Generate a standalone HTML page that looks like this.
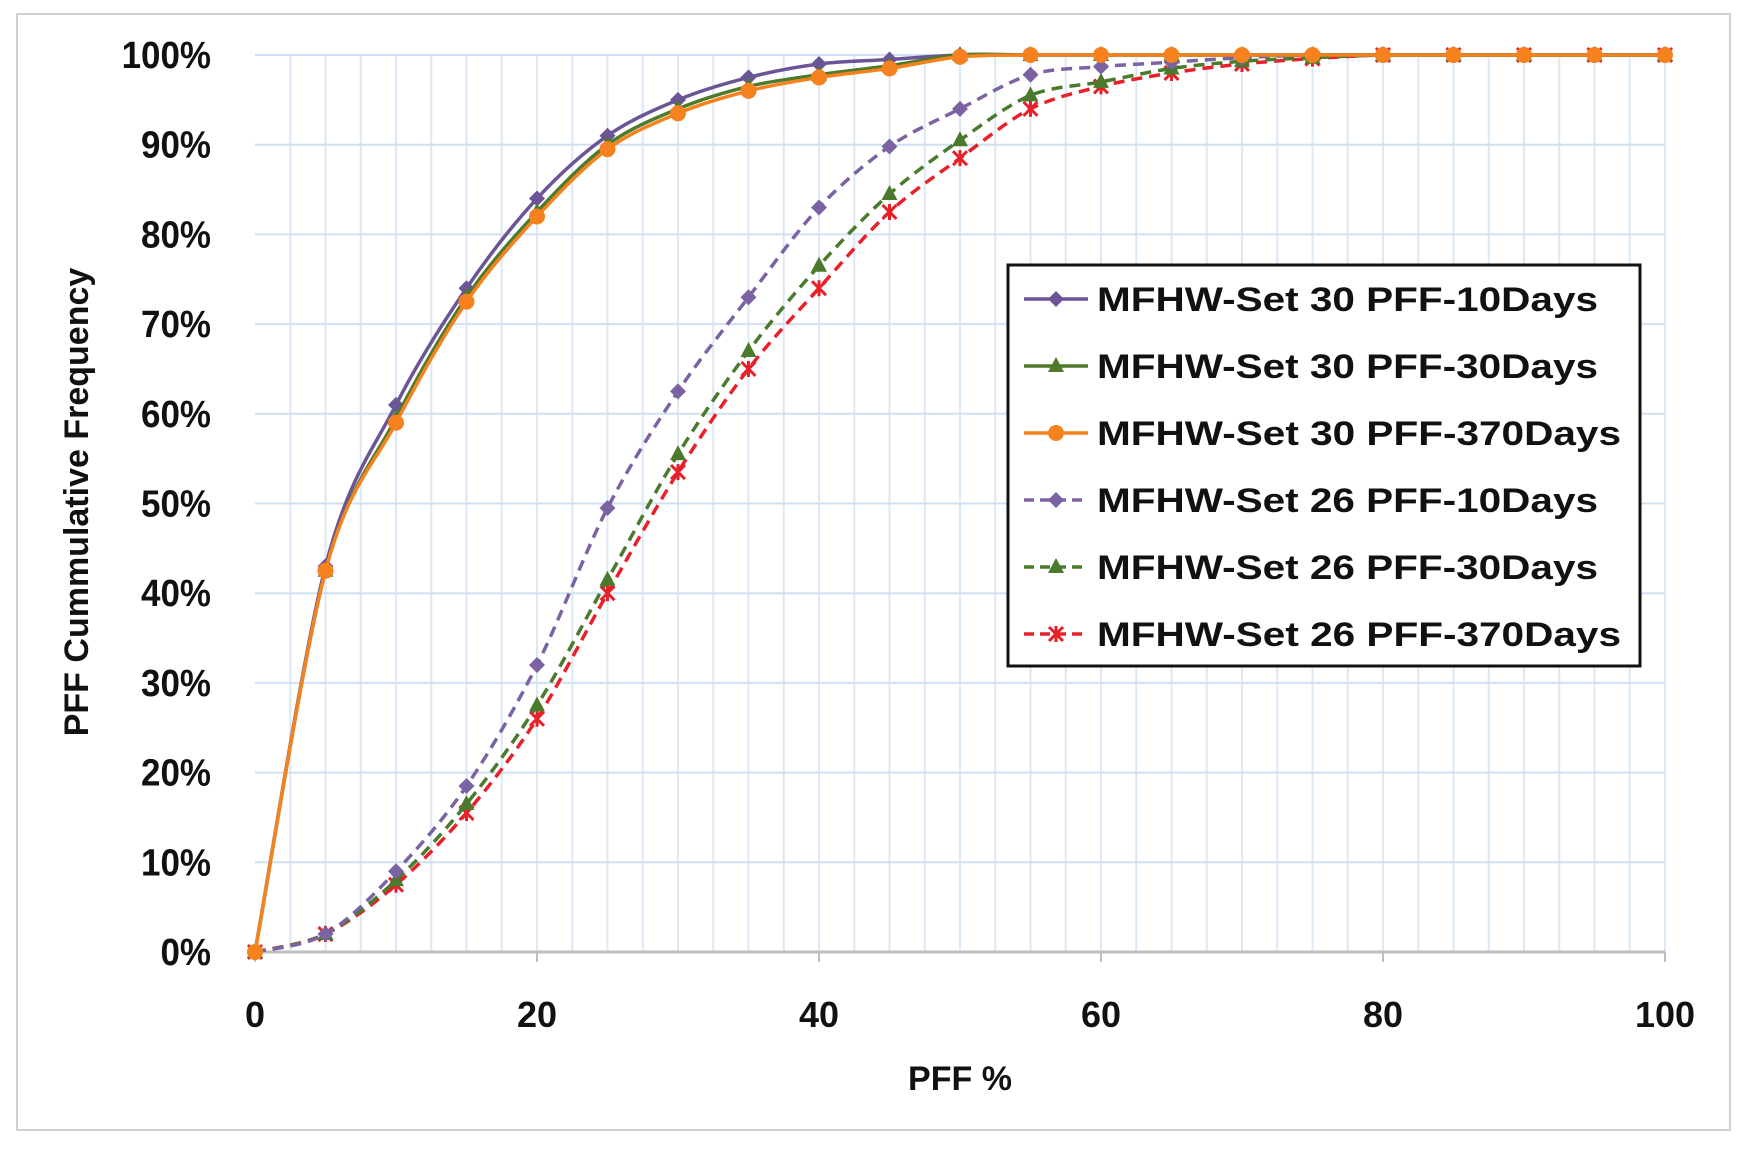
<!DOCTYPE html>
<html><head><meta charset="utf-8"><style>
body{margin:0;background:#fff}
svg{display:block;font-family:"Liberation Sans",sans-serif;font-weight:bold}
</style></head><body>
<svg id="chart" width="1746" height="1151" viewBox="0 0 1746 1151" xmlns="http://www.w3.org/2000/svg">
<rect x="17" y="14" width="1713" height="1116" fill="#fff" stroke="#d0d0d0" stroke-width="2"/>
<g id="grid"></g>
<g id="axes"></g>
<g id="series"></g>
<text x="960" y="1090" font-size="34" text-anchor="middle" fill="#111">PFF %</text>
<text transform="translate(88,502) rotate(-90)" font-size="34" text-anchor="middle" fill="#111">PFF Cummulative Frequency</text>
<g id="legend"></g>
</svg>
<script>
const xs=[0,5,10,15,20,25,30,35,40,45,50,55,60,65,70,75,80,85,90,95,100];
const seriesNames=["MFHW-Set 30 PFF-10Days","MFHW-Set 30 PFF-30Days","MFHW-Set 30 PFF-370Days","MFHW-Set 26 PFF-10Days","MFHW-Set 26 PFF-30Days","MFHW-Set 26 PFF-370Days"];
const s30d10=[0,43,61,74,84,91,95,97.5,99,99.5,100,100,100,100,100,100,100,100,100,100,100];
const s30d30=[0,42.5,59.5,73,82.5,90,94,96.5,97.8,98.8,100,100,100,100,100,100,100,100,100,100,100];
const s30d370=[0,42.5,59,72.5,82,89.5,93.5,96,97.5,98.5,99.8,100,100,100,100,100,100,100,100,100,100];
const s26d10=[0,2,9,18.5,32,49.5,62.5,73,83,89.8,94,97.8,98.7,99.2,99.7,100,100,100,100,100,100];
const s26d30=[0,2,8,16.5,27.5,41.5,55.5,67,76.5,84.5,90.5,95.5,97,98.5,99.3,99.7,100,100,100,100,100];
const s26d370=[0,2,7.5,15.5,26,40,53.5,65,74,82.5,88.5,94,96.5,98,99,99.6,100,100,100,100,100];
const xTicks=[0,20,40,60,80,100];
const yTicks=[0,10,20,30,40,50,60,70,80,90,100];

const X0=255,X1=1665,Y0=952,Y1=55;
const sx=v=>X0+(X1-X0)*v/100, sy=v=>Y0-(Y0-Y1)*v/100;
const NS="http://www.w3.org/2000/svg";
function mk(tag,attrs,parent){const e=document.createElementNS(NS,tag);for(const k in attrs)e.setAttribute(k,attrs[k]);parent.appendChild(e);return e;}
const grid=document.getElementById('grid'),axes=document.getElementById('axes'),ser=document.getElementById('series'),leg=document.getElementById('legend');
for(let v=2.5;v<=100;v+=2.5){const l=mk('line',{x1:sx(v),x2:sx(v),y1:Y1,y2:Y0,stroke:'#dbe8f5','stroke-width':2},grid);

}
yTicks.forEach(v=>{if(v>0){const l=mk('line',{x1:X0,x2:X1,y1:sy(v),y2:sy(v),stroke:'#cfe0f2','stroke-width':2},grid);

}
const t=mk('text',{x:211,y:sy(v)+13,'font-size':38,'text-anchor':'end',fill:'#111',transform:`translate(${211*0.08},0) scale(0.92,1)`},axes);t.textContent=v+'%';

});
const ax=mk('line',{x1:X0,x2:X1,y1:Y0,y2:Y0,stroke:'#bfbfbf','stroke-width':3},axes);


xTicks.forEach(v=>{const tk=mk('line',{x1:sx(v),x2:sx(v),y1:Y0,y2:Y0+10,stroke:'#bfbfbf','stroke-width':2},axes);


const t=mk('text',{x:sx(v),y:1027,'font-size':36,'text-anchor':'middle',fill:'#111'},axes);t.textContent=v;

});

function smooth(pts){let d=`M${pts[0][0]},${pts[0][1]}`;for(let i=0;i<pts.length-1;i++){const p0=pts[Math.max(0,i-1)],p1=pts[i],p2=pts[i+1],p3=pts[Math.min(pts.length-1,i+2)];const t=0.16;
const c1=[p1[0]+(p2[0]-p0[0])*t,p1[1]+(p2[1]-p0[1])*t],c2=[p2[0]-(p3[0]-p1[0])*t,p2[1]-(p3[1]-p1[1])*t];d+=` C${c1[0]},${c1[1]} ${c2[0]},${c2[1]} ${p2[0]},${p2[1]}`;}return d;}
function marker(kind,x,y,c,g){let e;
if(kind==='diamond')e=mk('polygon',{points:`${x},${y-8} ${x+8},${y} ${x},${y+8} ${x-8},${y}`,fill:c},g);
else if(kind==='tri')e=mk('polygon',{points:`${x},${y-9} ${x+8},${y+6} ${x-8},${y+6}`,fill:c},g);
else if(kind==='circle')e=mk('circle',{cx:x,cy:y,r:8,fill:c},g);
else e=mk('path',{d:`M${x-7},${y-7}L${x+7},${y+7}M${x+7},${y-7}L${x-7},${y+7}M${x},${y-8}L${x},${y+8}`,stroke:c,'stroke-width':3},g);
return e;}
const data=[s30d10,s30d30,s30d370,s26d10,s26d30,s26d370];
const colors=['#6c5596','#4e7a2a','#f5821f','#7b62a3','#4a7a2c','#e8202a'];
const kinds=['diamond','tri','circle','diamond','tri','x'];
const dashed=[false,false,false,true,true,true];
const order=[5,4,3,0,1,2];
order.forEach(i=>{const g=mk('g',{},ser);


const pts=xs.map((x,j)=>[sx(x),sy(data[i][j])]);
const p=mk('path',{d:smooth(pts),fill:'none',stroke:colors[i],'stroke-width':3.5},g);
if(dashed[i])p.setAttribute('stroke-dasharray','11 7');


pts.forEach(pt=>{const m=marker(kinds[i],pt[0],pt[1],colors[i],g);

});});

mk('rect',{x:1008,y:265,width:632,height:401,fill:'#fff',stroke:'#111','stroke-width':3},leg);
seriesNames.forEach((n,i)=>{const y=299+i*67;const g=mk('g',{},leg);


const l=mk('line',{x1:1024,x2:1088,y1:y,y2:y,stroke:colors[i],'stroke-width':3.5},g);
if(dashed[i])l.setAttribute('stroke-dasharray','10 6');
marker(kinds[i],1056,y,colors[i],g);
const t=mk('text',{x:1097,y:y+12,'font-size':34,fill:'#111',textLength:(i===2||i===5)?524:501,lengthAdjust:'spacingAndGlyphs'},g);t.textContent=n;});
</script>
</body></html>
